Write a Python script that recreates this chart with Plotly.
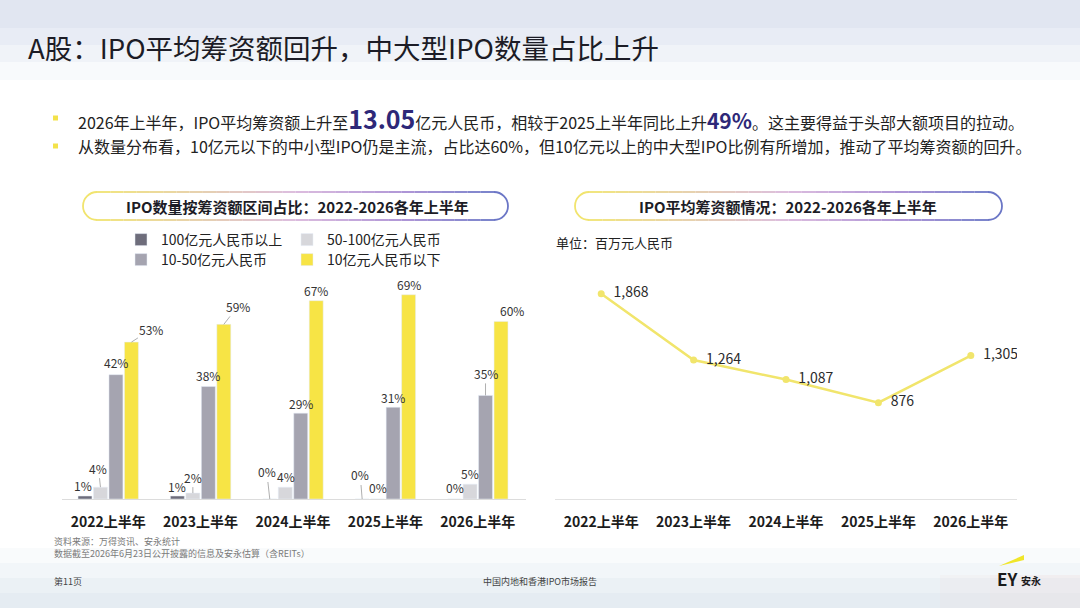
import plotly.graph_objects as go

W, H = 1080, 608
FONT = "Noto Sans CJK SC, Noto Sans, sans-serif"

# ---------------- data ----------------
categories = ["2022上半年", "2023上半年", "2024上半年", "2025上半年", "2026上半年"]
series_names = ["100亿元人民币以上", "50-100亿元人民币", "10-50亿元人民币", "10亿元人民币以下"]
share_100plus = [1, 1, 0, 0, 0]
share_50_100 = [4, 2, 4, 0, 5]
share_10_50 = [42, 38, 29, 31, 35]
share_below10 = [53, 59, 67, 69, 60]
avg_raise = [1868, 1264, 1087, 876, 1305]   # 百万元人民币

shares = [share_100plus, share_50_100, share_10_50, share_below10]
bar_colors = ["#6e6d7b", "#d7d7db", "#a5a4b0", "#f7e445"]

# label offsets (px) relative to bar top: (dx, dy, leader line)
label_offsets = [
    [(-2, -11, False), (0, -10, False), (-3, -27, True), (-2, -24, True), (0, -11, False)],
    [(-2, -19, True), (0, -16, True), (1, -11, False), (0, -11, False), (0, -11, False)],
    [(0, -12, False), (0, -11, False), (0, -10, False), (0, -10, False), (0, -22, True)],
    [(20, -13, True), (14, -18, True), (0, -10, False), (0, -10, False), (11, -11, False)],
]


def px(x):
    return x / W


def py(y):
    return 1 - y / H


fig = go.Figure()

BARGAP = 0.33
for k, (name, vals) in enumerate(zip(series_names, shares)):
    fig.add_trace(go.Bar(
        x=categories, y=vals, name=name, marker_color=bar_colors[k],
        xaxis="x", yaxis="y", legend="legend" if k < 2 else "legend2",
        hoverinfo="skip",
    ))

fig.add_trace(go.Scatter(
    x=categories, y=avg_raise, mode="lines+markers+text",
    text=[f"\u2002{v:,}" for v in avg_raise], textposition="middle right",
    textfont=dict(size=14, color="#2b2b2b", family=FONT),
    line=dict(color="#f1e56c", width=2.5), marker=dict(size=7, color="#f1e56c"),
    xaxis="x2", yaxis="y2", showlegend=False, hoverinfo="skip",
))

annotations = []
slot = (1 - BARGAP) / 4
for k, vals in enumerate(shares):
    for i, v in enumerate(vals):
        xpos = i + (k - 1.5) * slot
        dx, dy, lead = label_offsets[k][i]
        a = dict(x=xpos, y=v, xref="x", yref="y", text=f"{v}%",
                 font=dict(size=12, color="#333333", family=FONT))
        if lead:
            a.update(showarrow=True, ax=dx, ay=dy, arrowhead=0, arrowwidth=0.8,
                     arrowcolor="#9a9a9a", standoff=0, startstandoff=0)
        else:
            a.update(showarrow=False, xshift=dx, yshift=-dy)
        annotations.append(a)

# ---------------- texts ----------------
def txt(x, y, s, size, color="#222222", xanchor="left", bold=False, family=FONT):
    annotations.append(dict(
        x=px(x), y=py(y), xref="paper", yref="paper", showarrow=False,
        text=f"<b>{s}</b>" if bold else s, xanchor=xanchor, yanchor="middle",
        font=dict(size=size, color=color, family=family)))


txt(26, 47, "A股：IPO平均筹资额回升，中大型IPO数量占比上升", 27.5, "#1c1c26")
hl = "color:#2e2878;font-weight:bold;"
txt(76, 118, "2026年上半年，IPO平均筹资额上升至"
    f"<span style='{hl}font-size:25px'>13.05</span>亿元人民币，相较于2025上半年同比上升"
    f"<span style='{hl}font-size:21px'>49%</span>。这主要得益于头部大额项目的拉动。", 16, "#222222")
txt(76, 146, "从数量分布看，10亿元以下的中小型IPO仍是主流，占比达60%，但10亿元以上的中大型IPO比例有所增加，推动了平均筹资额的回升。",
    16, "#222222")

txt(297, 206, "IPO数量按筹资额区间占比：2022-2026各年上半年", 15, "#1c1c26", "center", True)
txt(788, 206, "IPO平均筹资额情况：2022-2026各年上半年", 15, "#1c1c26", "center", True)
txt(554, 242, "单位：百万元人民币", 13, "#222222")

txt(52, 541, "资料来源：万得资讯、安永统计", 9, "#7a7a7a")
txt(52, 553, "数据截至2026年6月23日公开披露的信息及安永估算（含REITs）", 9, "#7a7a7a")
txt(52, 581, "第11页", 9, "#444444")
txt(540, 581, "中国内地和香港IPO市场报告", 9, "#444444", "center")
txt(995, 578, "EY", 17, "#1a1a1a", "left", True)
txt(1019, 580, "安永", 10, "#1a1a1a", "left", True)

# ---------------- shapes ----------------
shapes = []
# background bands (soft gradient)
for h, op in [(80, 0.10), (62, 0.13), (45, 0.15), (28, 0.17)]:
    shapes.append(dict(type="rect", xref="paper", yref="paper", x0=0, x1=1, y0=py(h), y1=1,
                       fillcolor="#bccbe2", opacity=op, line_width=0, layer="below"))
for h, op in [(60, 0.10), (45, 0.12), (30, 0.14), (15, 0.16)]:
    shapes.append(dict(type="rect", xref="paper", yref="paper", x0=0, x1=1, y0=0, y1=py(H - h),
                       fillcolor="#c9d4e4", opacity=op, line_width=0, layer="below"))
for x0, op in [(940, 0.12), (990, 0.14)]:
    shapes.append(dict(type="rect", xref="paper", yref="paper", x0=px(x0), x1=1, y0=0, y1=py(575),
                       fillcolor="#f2d9d9", opacity=op, line_width=0, layer="below"))

# bullets
for yb in (118, 146):
    shapes.append(dict(type="rect", xref="paper", yref="paper", x0=px(53), x1=px(58),
                       y0=py(yb + 2.5), y1=py(yb - 2.5), line_width=0, fillcolor="#f3e24a"))


def lerp_color(c1, c2, t):
    a = [int(c1[i:i + 2], 16) for i in (1, 3, 5)]
    b = [int(c2[i:i + 2], 16) for i in (1, 3, 5)]
    return "#" + "".join(f"{int(round(a[j] + (b[j] - a[j]) * t)):02x}" for j in range(3))


def grad(t):
    stops = [(0, "#f1e46e"), (0.5, "#d9b6dc"), (0.78, "#a58ad2"), (1, "#6b76c6")]
    for (t0, c0), (t1, c1) in zip(stops[:-1], stops[1:]):
        if t <= t1:
            return lerp_color(c0, c1, (t - t0) / (t1 - t0))
    return stops[-1][1]


def pill(x0, x1, y0, y1, width=1.8):
    r = (y1 - y0) / 2
    yc = (y0 + y1) / 2
    k = 0.5523 * r
    p = (f"M{px(x0 + r)},{py(y0)} C{px(x0 + r - k)},{py(y0)} {px(x0)},{py(yc - k)} {px(x0)},{py(yc)} "
         f"C{px(x0)},{py(yc + k)} {px(x0 + r - k)},{py(y1)} {px(x0 + r)},{py(y1)}")
    shapes.append(dict(type="path", xref="paper", yref="paper", path=p,
                       line=dict(color=grad(0), width=width)))
    p = (f"M{px(x1 - r)},{py(y0)} C{px(x1 - r + k)},{py(y0)} {px(x1)},{py(yc - k)} {px(x1)},{py(yc)} "
         f"C{px(x1)},{py(yc + k)} {px(x1 - r + k)},{py(y1)} {px(x1 - r)},{py(y1)}")
    shapes.append(dict(type="path", xref="paper", yref="paper", path=p,
                       line=dict(color=grad(1), width=width)))
    n = 30
    xa, xb = x0 + r, x1 - r
    for i in range(n):
        s0 = xa + (xb - xa) * i / n
        s1 = xa + (xb - xa) * (i + 1) / n
        c = grad((i + 0.5) / n)
        for yy in (y0, y1):
            shapes.append(dict(type="line", xref="paper", yref="paper", x0=px(s0), x1=px(s1),
                               y0=py(yy), y1=py(yy), line=dict(color=c, width=width)))


pill(83, 508, 192, 220)
pill(575, 1002, 192, 220)

# EY slash
shapes.append(dict(type="path", xref="paper", yref="paper",
                   path=f"M{px(999)},{py(566)} L{px(1024)},{py(555)} L{px(1024)},{py(560)} Z",
                   fillcolor="#f0e62a", line_width=0))

fig.update_layout(
    width=W, height=H, autosize=False,
    margin=dict(l=0, r=0, t=0, b=0),
    paper_bgcolor="#ffffff", plot_bgcolor="rgba(0,0,0,0)",
    font=dict(family=FONT, color="#222222"),
    barmode="group", bargap=BARGAP, bargroupgap=0.1,
    xaxis=dict(domain=[px(62), px(526)], type="category", showgrid=False, zeroline=False,
               showline=True, linecolor="#dcdcdc", linewidth=1, ticks="",
               tickfont=dict(size=14, color="#1c1c1c", family=FONT, weight="bold"),
               ticklabelstandoff=10, fixedrange=True),
    yaxis=dict(domain=[py(499), py(499 - 80 * 2.96)], range=[0, 80], visible=False,
               fixedrange=True),
    xaxis2=dict(domain=[px(555), px(1017)], type="category", showgrid=False, zeroline=False,
                showline=True, linecolor="#e2e2e2", linewidth=1, ticks="",
                range=[-0.5, 4.5], anchor="y2",
                tickfont=dict(size=14, color="#1c1c1c", family=FONT, weight="bold"),
                ticklabelstandoff=10, fixedrange=True),
    yaxis2=dict(domain=[py(499), py(499 - 2200 * 0.1099)], range=[0, 2200], visible=False,
                anchor="x2", fixedrange=True),
    legend=dict(orientation="h", x=px(121), y=py(240), xanchor="left", yanchor="middle",
                entrywidth=121, font=dict(size=14, color="#222222", family=FONT),
                bgcolor="rgba(0,0,0,0)", traceorder="normal"),
    legend2=dict(orientation="h", x=px(121), y=py(260), xanchor="left", yanchor="middle",
                 entrywidth=121, font=dict(size=14, color="#222222", family=FONT),
                 bgcolor="rgba(0,0,0,0)", traceorder="normal"),
    annotations=annotations, shapes=shapes,
)

fig.write_html("out.html", config={"displayModeBar": False},
               post_script="document.body.style.margin='0';")
